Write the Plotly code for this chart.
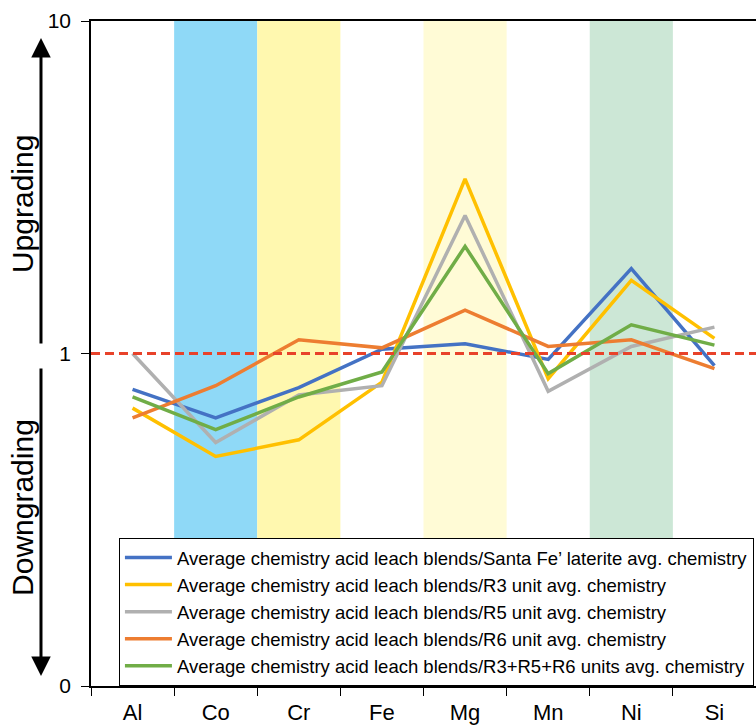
import plotly.graph_objects as go

elements = ["Al", "Co", "Cr", "Fe", "Mg", "Mn", "Ni", "Si"]

santa_fe = [0.78, 0.64, 0.79, 1.03, 1.07, 0.96, 1.80, 0.92]
r3_unit = [0.685, 0.49, 0.55, 0.82, 3.35, 0.84, 1.66, 1.11]
r5_unit = [1.00, 0.54, 0.75, 0.80, 2.60, 0.77, 1.05, 1.20]
r6_unit = [0.64, 0.80, 1.10, 1.04, 1.35, 1.05, 1.10, 0.90]
r356_units = [0.74, 0.59, 0.74, 0.88, 2.10, 0.87, 1.22, 1.06]

series_names = [
    "Average chemistry acid leach blends/Santa Fe\u2019 laterite avg. chemistry",
    "Average chemistry acid leach blends/R3 unit avg. chemistry",
    "Average chemistry acid leach blends/R5 unit avg. chemistry",
    "Average chemistry acid leach blends/R6 unit avg. chemistry",
    "Average chemistry acid leach blends/R3+R5+R6 units avg. chemistry",
]
series_values = [santa_fe, r3_unit, r5_unit, r6_unit, r356_units]
series_colors = ["#4472C4", "#FFC000", "#B0B0B0", "#ED7D31", "#70AD47"]

y_tick_vals = [0.1, 1, 10]
y_tick_text = ["0", "1", "10"]

band_elements = ["Co", "Cr", "Mg", "Ni"]
band_colors = ["#8FD9F7", "#FFF8AF", "#FFFBD6", "#CCE7D6"]

FONT = "Liberation Sans, Arial, sans-serif"

fig = go.Figure()

for name, vals, col in zip(series_names, series_values, series_colors):
    fig.add_trace(go.Scatter(
        x=elements, y=vals, name=name, mode="lines",
        line=dict(color=col, width=3.5),
    ))

shapes = []
for el, col in zip(band_elements, band_colors):
    i = elements.index(el)
    shapes.append(dict(type="rect", xref="x", yref="paper",
                       x0=i - 0.5, x1=i + 0.5, y0=0, y1=1,
                       fillcolor=col, line=dict(width=0), layer="below"))
# reference line at ratio 1 (middle of the log range 0.1-10)
shapes.append(dict(type="line", xref="paper", yref="paper",
                   x0=0, x1=1, y0=0.5, y1=0.5,
                   line=dict(color="#E8422A", width=3, dash="9px,5px")))

annotations = [
    dict(xref="paper", yref="paper", x=-0.0752, y=0.9745, text="",
         showarrow=True, ax=0, ay=307, arrowhead=2, arrowsize=1.3,
         arrowwidth=3, arrowcolor="black", standoff=0),
    dict(xref="paper", yref="paper", x=-0.0752, y=0.015, text="",
         showarrow=True, ax=0, ay=-309, arrowhead=2, arrowsize=1.3,
         arrowwidth=3, arrowcolor="black", standoff=0),
    dict(xref="paper", yref="paper", x=-0.102, y=0.725, text="Upgrading",
         xanchor="center", yanchor="middle",
         showarrow=False, textangle=-90, font=dict(size=30, color="black", family=FONT)),
    dict(xref="paper", yref="paper", x=-0.102, y=0.268, text="Downgrading",
         xanchor="center", yanchor="middle",
         showarrow=False, textangle=-90, font=dict(size=30, color="black", family=FONT)),
]

fig.update_layout(
    width=756, height=725,
    margin=dict(l=91, r=0, t=21, b=39),
    paper_bgcolor="white", plot_bgcolor="white",
    font=dict(family=FONT, color="black"),
    showlegend=True,
    legend=dict(x=0.042, y=0, xanchor="left", yanchor="bottom",
                bgcolor="white", bordercolor="black", borderwidth=1,
                font=dict(size=18.5, color="black", family=FONT),
                itemwidth=47, tracegroupgap=0),
    shapes=shapes,
    annotations=annotations,
    xaxis=dict(type="category", range=[-0.5, 7.5], showgrid=False,
               showline=True, linecolor="black", linewidth=1.5, mirror=True,
               ticks="outside", tickson="boundaries", ticklen=8,
               tickcolor="black", tickwidth=1,
               tickfont=dict(size=22, color="black", family=FONT),
               ticklabelstandoff=6, zeroline=False),
    yaxis=dict(type="log", range=[-1, 1], showgrid=False,
               showline=True, linecolor="black", linewidth=1.5,
               tickvals=y_tick_vals, ticktext=y_tick_text,
               ticks="outside", ticklen=8, tickcolor="black", tickwidth=1,
               tickfont=dict(size=21, color="black", family=FONT),
               ticklabelstandoff=6, zeroline=False),
)

fig.write_html("out.html")
